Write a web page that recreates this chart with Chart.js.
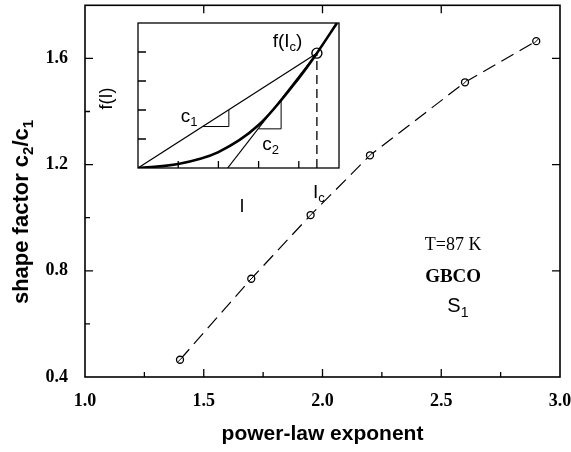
<!DOCTYPE html>
<html>
<head>
<meta charset="utf-8">
<script src="https://cdn.jsdelivr.net/npm/chart.js@4.4.0/dist/chart.umd.min.js"></script>
<style>
html, body { margin: 0; padding: 0; background: #fff; }
#wrap { position: relative; width: 571px; height: 452px; }
#wrap canvas { position: absolute; left: 0; top: 0; }
</style>
</head>
<body>
<div id="wrap">
  <canvas id="main" width="571" height="452" style="width:571px;height:452px"></canvas>
  <canvas id="inset" width="571" height="452" style="width:571px;height:452px"></canvas>
</div>
<script>
// main plot data
var exponents = [1.4, 1.7, 1.95, 2.2, 2.6, 2.9];
var shapeFactor = [0.465, 0.77, 1.01, 1.235, 1.51, 1.665];
var xTicks = [1.0, 1.5, 2.0, 2.5, 3.0];
var yTicks = [0.4, 0.8, 1.2, 1.6];

// inset sketch
var insetI = [0, 1, 2, 3, 4, 4.45, 4.95];
var insetF = [0, 0.14, 0.55, 1.48, 3.1, 3.96, 5.0];
var Ic = 4.45, fIc = 3.96;
var c2Foot = 2.23;
var c1Step = [[1.62, 1.43], [2.26, 1.43], [2.26, 2.0]];
var c2Step = [[3.0, 1.35], [3.56, 1.35], [3.56, 2.35]];

function isIn(list, v) {
  return list.some(function(t) { return Math.abs(t - v) < 1e-6; });
}

// draws text pieces, some as subscripts, centred on x
function drawParts(ctx, parts, x, y, size, family, weight) {
  var subSize = Math.round(size * 0.68);
  var widths = parts.map(function(p) {
    ctx.font = (weight || '') + ' ' + (p[1] ? subSize : size) + 'px ' + family;
    return ctx.measureText(p[0]).width;
  });
  var total = widths.reduce(function(a, b) { return a + b; }, 0);
  var cx = x - total / 2;
  ctx.textAlign = 'left';
  ctx.textBaseline = 'middle';
  parts.forEach(function(p, i) {
    ctx.font = (weight || '') + ' ' + (p[1] ? subSize : size) + 'px ' + family;
    ctx.fillText(p[0], cx, p[1] ? y + size * 0.3 : y);
    cx += widths[i];
  });
}

var frame = {
  id: 'frame',
  afterDraw: function(chart) {
    var ctx = chart.ctx, a = chart.chartArea;
    var xs = chart.scales.x, ys = chart.scales.y;
    ctx.save();
    ctx.strokeStyle = '#000';
    ctx.fillStyle = '#000';
    ctx.lineWidth = 1.6;
    ctx.strokeRect(a.left, a.top, a.right - a.left, a.bottom - a.top);

    // inward ticks
    ctx.lineWidth = 1.3;
    ctx.beginPath();
    xs.ticks.forEach(function(t) {
      if (t.value <= xs.min || t.value >= xs.max) return;
      var px = xs.getPixelForValue(t.value);
      var major = isIn(xTicks, t.value);
      ctx.moveTo(px, a.bottom);
      ctx.lineTo(px, a.bottom - (major ? 8 : 5));
      if (major) {
        ctx.moveTo(px, a.top);
        ctx.lineTo(px, a.top + 8);
      }
    });
    ys.ticks.forEach(function(t) {
      if (t.value <= ys.min || t.value >= ys.max) return;
      var py = ys.getPixelForValue(t.value);
      var major = isIn(yTicks, t.value);
      ctx.moveTo(a.left, py);
      ctx.lineTo(a.left + (major ? 8 : 5), py);
      if (major) {
        ctx.moveTo(a.right, py);
        ctx.lineTo(a.right - 8, py);
      }
    });
    ctx.stroke();

    // slash through the open circles
    ctx.lineWidth = 1;
    ctx.beginPath();
    chart.getDatasetMeta(0).data.forEach(function(p) {
      ctx.moveTo(p.x - 2.4, p.y + 2.4);
      ctx.lineTo(p.x + 2.4, p.y - 2.4);
    });
    ctx.stroke();

    // y axis title with subscripts
    ctx.save();
    ctx.translate(22, 212);
    ctx.rotate(-Math.PI / 2);
    drawParts(ctx, [['shape factor c', 0], ['2', 1], ['/c', 0], ['1', 1]], 0, 0, 22, '"Liberation Sans"', 'bold');
    ctx.restore();

    // annotations
    ctx.textAlign = 'center';
    ctx.textBaseline = 'middle';
    ctx.font = '18px "Liberation Serif"';
    ctx.fillText('T=87 K', xs.getPixelForValue(2.55), ys.getPixelForValue(0.895));
    ctx.font = 'bold 19px "Liberation Serif"';
    ctx.fillText('GBCO', xs.getPixelForValue(2.55), ys.getPixelForValue(0.775));
    drawParts(ctx, [['S', 0], ['1', 1]], xs.getPixelForValue(2.57), ys.getPixelForValue(0.665), 20, '"Liberation Sans"');
    ctx.restore();
  }
};

new Chart(document.getElementById('main'), {
  type: 'scatter',
  data: {
    datasets: [{
      data: exponents.map(function(x, i) { return { x: x, y: shapeFactor[i] }; }),
      showLine: true,
      borderColor: '#000',
      borderWidth: 1.2,
      borderDash: [14, 7],
      pointRadius: 3.5,
      pointBackgroundColor: '#fff',
      pointBorderColor: '#000',
      pointBorderWidth: 1.3,
      tension: 0
    }]
  },
  options: {
    responsive: false,
    animation: false,
    devicePixelRatio: 1,
    layout: { padding: { left: 0, right: 11, top: 3, bottom: 0 } },
    plugins: { legend: { display: false }, tooltip: { enabled: false } },
    scales: {
      x: {
        type: 'linear', min: 1, max: 3,
        grid: { display: false }, border: { display: false },
        ticks: {
          stepSize: 0.25, autoSkip: false, maxRotation: 0, padding: 6, color: '#000',
          font: { family: '"Liberation Serif"', weight: 'bold', size: 18 },
          callback: function(v) { return isIn(xTicks, v) ? v.toFixed(1) : ''; }
        },
        title: {
          display: true, text: 'power-law exponent', color: '#000',
          font: { family: '"Liberation Sans"', weight: 'bold', size: 21 },
          padding: { top: 0, bottom: 5 }
        },
        afterFit: function(s) { s.height = 75; s.paddingLeft = 0; s.paddingRight = 0; }
      },
      y: {
        type: 'linear', min: 0.4, max: 1.8,
        grid: { display: false }, border: { display: false },
        ticks: {
          stepSize: 0.2, autoSkip: false, padding: 9, color: '#000',
          font: { family: '"Liberation Serif"', weight: 'bold', size: 18 },
          callback: function(v) { return isIn(yTicks, v) ? v.toFixed(1) : ''; }
        },
        afterFit: function(s) { s.width = 85; s.paddingTop = 0; s.paddingBottom = 0; }
      }
    }
  },
  plugins: [frame]
});

// inset: f(I) sketch
var insetFrame = {
  id: 'insetFrame',
  afterDraw: function(chart) {
    var ctx = chart.ctx, a = chart.chartArea;
    var xs = chart.scales.x, ys = chart.scales.y;
    ctx.save();
    ctx.strokeStyle = '#000';
    ctx.fillStyle = '#000';
    ctx.lineWidth = 1.3;
    ctx.strokeRect(a.left, a.top, a.right - a.left, a.bottom - a.top);
    ctx.beginPath();
    for (var k = 1; k <= 4; k++) {
      var px = xs.getPixelForValue(k), py = ys.getPixelForValue(k);
      ctx.moveTo(px, a.bottom); ctx.lineTo(px, a.bottom - 7);
      ctx.moveTo(a.left, py); ctx.lineTo(a.left + 8, py);
    }
    ctx.stroke();

    var fam = '"Liberation Sans"';
    drawParts(ctx, [['f(I', 0], ['c', 1], [')', 0]], xs.getPixelForValue(3.72), ys.getPixelForValue(4.36), 19, fam);
    drawParts(ctx, [['c', 0], ['1', 1]], xs.getPixelForValue(1.27), ys.getPixelForValue(1.78), 19, fam);
    drawParts(ctx, [['c', 0], ['2', 1]], xs.getPixelForValue(3.3), ys.getPixelForValue(0.8), 19, fam);
    drawParts(ctx, [['I', 0], ['c', 1]], xs.getPixelForValue(4.5), ys.getPixelForValue(-0.85), 19, fam);
    drawParts(ctx, [['I', 0]], xs.getPixelForValue(2.59), ys.getPixelForValue(-1.34), 18, fam);
    ctx.save();
    ctx.translate(xs.getPixelForValue(-0.77), ys.getPixelForValue(2.4));
    ctx.rotate(-Math.PI / 2);
    drawParts(ctx, [['f(I)', 0]], 0, 0, 18, fam);
    ctx.restore();
    ctx.restore();
  }
};

function pts(list) {
  return list.map(function(p) { return { x: p[0], y: p[1] }; });
}

new Chart(document.getElementById('inset'), {
  type: 'scatter',
  data: {
    datasets: [
      {
        data: insetI.map(function(x, i) { return { x: x, y: insetF[i] }; }),
        showLine: true, borderColor: '#000', borderWidth: 2.6,
        pointRadius: 0, cubicInterpolationMode: 'monotone'
      },
      {
        data: pts([[0, 0], [Ic, fIc]]),
        showLine: true, borderColor: '#000', borderWidth: 1.2, pointRadius: 0
      },
      {
        data: pts([[c2Foot, 0], [Ic, fIc]]),
        showLine: true, borderColor: '#000', borderWidth: 1.2, pointRadius: 0
      },
      {
        data: pts(c1Step),
        showLine: true, borderColor: '#000', borderWidth: 1, pointRadius: 0
      },
      {
        data: pts(c2Step),
        showLine: true, borderColor: '#000', borderWidth: 1, pointRadius: 0
      },
      {
        data: pts([[Ic, 0], [Ic, fIc]]),
        showLine: true, borderColor: '#000', borderWidth: 1.3, borderDash: [9, 5], pointRadius: 0
      },
      {
        data: pts([[Ic, fIc]]),
        pointRadius: 5, pointBackgroundColor: '#fff', pointBorderColor: '#000', pointBorderWidth: 1.4
      }
    ]
  },
  options: {
    responsive: false,
    animation: false,
    devicePixelRatio: 1,
    layout: { padding: { left: 138, right: 232, top: 23, bottom: 284 } },
    plugins: { legend: { display: false }, tooltip: { enabled: false } },
    scales: {
      x: { type: 'linear', min: 0, max: 5, display: false },
      y: { type: 'linear', min: 0, max: 5, display: false }
    }
  },
  plugins: [insetFrame]
});
</script>
</body>
</html>
